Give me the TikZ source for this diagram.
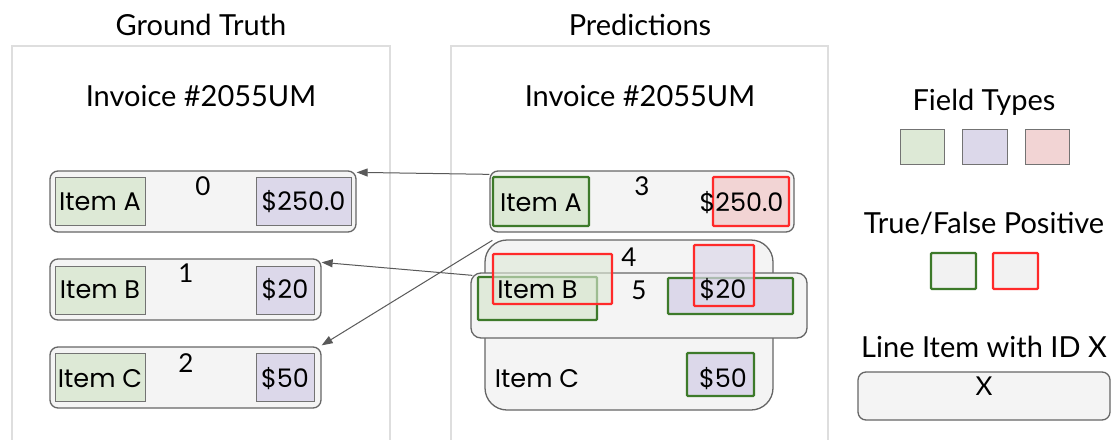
\documentclass[tikz,border=0pt]{standalone}
\usepackage{fontspec}
\setmainfont{Lato}
\newfontfamily\itemfont{Poppins}
\usetikzlibrary{arrows.meta}
\definecolor{fgreen}{HTML}{DDE9D6}
\definecolor{flav}{HTML}{DCD8EA}
\definecolor{fpink}{HTML}{F2D4D4}
\definecolor{tpgreen}{HTML}{3D7A2A}
\definecolor{fpred}{HTML}{FF2A2A}
\definecolor{itembg}{HTML}{F4F4F4}
\begin{document}
\begin{tikzpicture}[x=1pt,y=-1pt,
  page/.style={draw=black!13, line width=2.5pt, fill=white},
  libox/.style={draw=black!60, line width=1.3pt, fill=itembg, rounded corners=8pt, inner sep=0pt},
  gtfield/.style={draw=black!55, line width=0.9pt, inner sep=0pt},
  tpbox/.style={draw=tpgreen, line width=2.2pt, inner sep=0pt, rounded corners=1pt},
  fpbox/.style={draw=fpred, line width=2.2pt, inner sep=0pt, rounded corners=1pt},
  num/.style={font=\fontsize{26}{26}\selectfont, inner sep=0pt, anchor=base},
  itxt/.style={font=\itemfont\fontsize{25.5}{25.5}\selectfont, inner sep=0pt, anchor=base},
  title/.style={font=\fontsize{29}{29}\selectfont, inner sep=0pt, anchor=base},
  legtxt/.style={font=\fontsize{29}{29}\selectfont, inner sep=0pt, anchor=base},
  arr/.style={draw=black!65, line width=1pt, -{Triangle[length=11pt,width=8pt]}},
]
\useasboundingbox (0,0) rectangle (1113,439);
\fill[white] (0,0) rectangle (1113,439);

% pages
\draw[page] (12,46) rectangle (390,460);
\draw[page] (451,46) rectangle (828,460);
\node[title] (tgt) at (201,35) {Ground Truth};
\node[title] (tpr) at (640,35) {Predictions};
\node[title] (igt) at (201,106) {Invoice \#2055UM};
\node[title] (ipr) at (640,106) {Invoice \#2055UM};

% ground truth line items
\node[libox, minimum width=306pt, minimum height=61pt] (g0) at (203,201.5) {};
\node[libox, minimum width=271pt, minimum height=61pt] (g1) at (185.5,289.5) {};
\node[libox, minimum width=271pt, minimum height=61pt] (g2) at (185.5,377.5) {};
\node[gtfield, fill=fgreen, minimum width=90pt, minimum height=48pt] (gA) at (100,201) {};
\node[gtfield, fill=flav, minimum width=95pt, minimum height=48pt] (gA2) at (303.5,201) {};
\node[gtfield, fill=fgreen, minimum width=90pt, minimum height=48pt] (gB) at (100,290) {};
\node[gtfield, fill=flav, minimum width=58pt, minimum height=48pt] (gB2) at (285,290) {};
\node[gtfield, fill=fgreen, minimum width=90pt, minimum height=48pt] (gC) at (100,377.5) {};
\node[gtfield, fill=flav, minimum width=58pt, minimum height=48pt] (gC2) at (285,377.5) {};
\node[itxt] (tgA) at (100,210) {Item A};
\node[itxt] (tgA2) at (303.5,210) {\$250.0};
\node[itxt] (tgB) at (100,298) {Item B};
\node[itxt] (tgB2) at (285,298) {\$20};
\node[itxt] (tgC) at (100,387) {Item C};
\node[itxt] (tgC2) at (285,387) {\$50};
\node[num] (n0) at (203,195) {0};
\node[num] (n1) at (186,282) {1};
\node[num] (n2) at (186,372) {2};

% predictions line items
\node[libox, minimum width=304pt, minimum height=61pt] (p3) at (642,201.5) {};
\node[tpbox, fill=fgreen, minimum width=96pt, minimum height=49pt] (pA) at (541,201.5) {};
\node[fpbox, fill=fpink, minimum width=76pt, minimum height=49pt] (pA2) at (751,201.5) {};
\node[itxt] (tpA) at (541,211) {Item A};
\node[itxt] (tpA2) at (741.5,211) {\$250.0};
\node[num] (n3) at (642,195) {3};

\node[libox, rounded corners=22pt, minimum width=288pt, minimum height=170pt] (p4) at (629,325) {};
\node[libox, rounded corners=10pt, minimum width=336pt, minimum height=65pt] (p5) at (639,305.5) {};
\node[tpbox, fill=fgreen, fill opacity=0.85, minimum width=119pt, minimum height=43pt] (pB5) at (537.5,298.5) {};
\node[tpbox, fill=flav, minimum width=125pt, minimum height=36pt] (pB25) at (730.5,296) {};
\node[fpbox, fill=fgreen, fill opacity=0.6, minimum width=119pt, minimum height=50pt] (pB4) at (552.5,279) {};
\node[fpbox, fill=flav, fill opacity=0.7, minimum width=60pt, minimum height=61pt] (pB24) at (724,275.5) {};
\node[tpbox, fill=flav, minimum width=67pt, minimum height=43pt] (pC2) at (720.5,374.5) {};
\node[itxt] (tpB) at (537.5,298) {Item B};
\node[itxt] (tpB2) at (723,298) {\$20};
\node[itxt] (tpC) at (537,387) {Item C};
\node[itxt] (tpC2) at (723,387) {\$50};
\node[num] (n4) at (629,266) {4};
\node[num] (n5) at (639,299) {5};

% matching arrows
\draw[arr] ([yshift=-4pt]p3.north west) -- ([yshift=-2pt]g0.north east);
\draw[arr] ([xshift=2pt,yshift=-3pt]p5.north west) -- ([yshift=-4pt]g1.north east);
\draw[arr] ([xshift=8pt,yshift=-1pt]p4.north west) -- ([yshift=1pt]g2.north east);

% legend
\node[legtxt] (lft) at (984,110) {Field Types};
\node[gtfield, fill=fgreen, minimum width=44pt, minimum height=35pt] (lf1) at (922,146.5) {};
\node[gtfield, fill=flav, minimum width=45pt, minimum height=35pt] (lf2) at (984.5,146.5) {};
\node[gtfield, fill=fpink, minimum width=44pt, minimum height=35pt] (lf3) at (1047,146.5) {};
\node[legtxt] (ltf) at (984,233) {True/False Positive};
\node[tpbox, fill=black!5, minimum width=45pt, minimum height=36pt] (lt1) at (953.5,271) {};
\node[fpbox, fill=black!5, minimum width=45pt, minimum height=36pt] (lt2) at (1015.5,271) {};
\node[legtxt] (lli) at (984,357) {Line Item with ID X};
\node[libox, minimum width=252pt, minimum height=48pt] (lbox) at (984,396) {};
\node[num] (lx) at (984,395) {X};
\end{tikzpicture}
\end{document}
